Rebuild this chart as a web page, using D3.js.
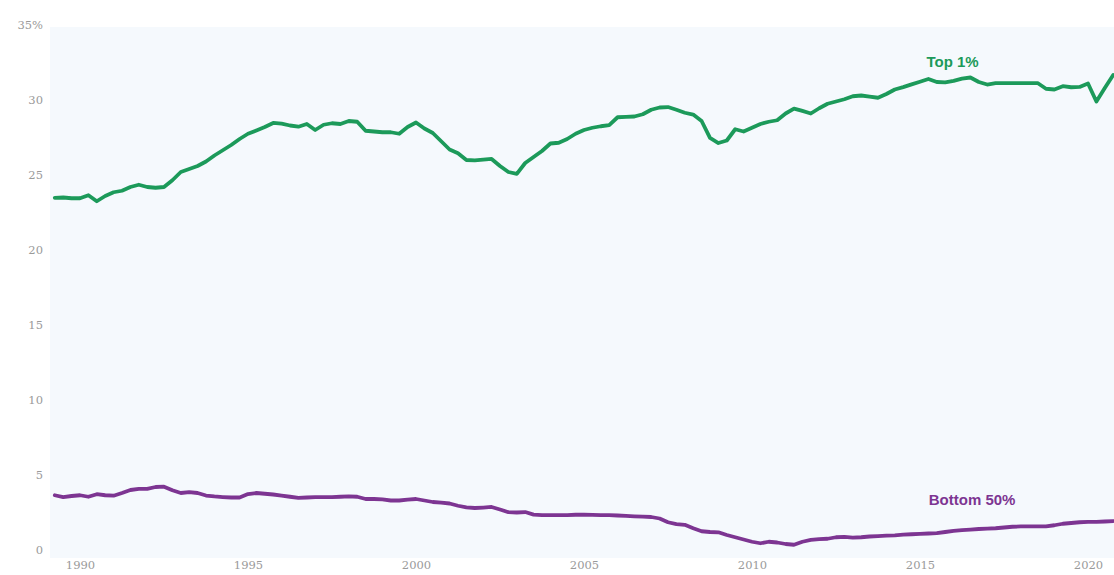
<!DOCTYPE html>
<html>
<head>
<meta charset="utf-8">
<script src="https://cdn.jsdelivr.net/npm/d3@7"></script>
<style>
  html, body { margin: 0; padding: 0; background: #ffffff; }
  svg { display: block; }
</style>
</head>
<body>
<svg id="chart" width="1114" height="575"></svg>
<script>
// Quarterly series, first quarter = 1989 Q2
const startYear = 1989.25;
const top1 = [
  23.47, 23.5, 23.45, 23.45, 23.65, 23.25, 23.6, 23.85, 23.95, 24.2,
  24.35, 24.2, 24.15, 24.2, 24.65, 25.2, 25.4, 25.6, 25.9, 26.3,
  26.65, 27.0, 27.4, 27.75, 27.97, 28.2, 28.47, 28.42, 28.3, 28.22,
  28.4, 28.0, 28.35, 28.45, 28.4, 28.6, 28.55, 27.95, 27.9, 27.85,
  27.85, 27.75, 28.2, 28.5, 28.1, 27.8, 27.25, 26.7, 26.45, 26.0,
  25.97, 26.02, 26.07, 25.6, 25.2, 25.07, 25.8, 26.2, 26.6, 27.1,
  27.15, 27.4, 27.75, 28.0, 28.15, 28.25, 28.32, 28.85, 28.87, 28.9,
  29.05, 29.35, 29.5, 29.53, 29.35, 29.15, 29.03, 28.6, 27.47, 27.13,
  27.3, 28.05, 27.9, 28.15, 28.4, 28.55, 28.65, 29.1, 29.43, 29.27,
  29.1, 29.45, 29.75, 29.9, 30.05, 30.25, 30.3, 30.22, 30.15, 30.4,
  30.7, 30.86, 31.04, 31.22, 31.4, 31.2, 31.18, 31.28, 31.43, 31.5,
  31.2, 31.03, 31.12, 31.13, 31.13, 31.13, 31.13, 31.13, 30.75, 30.7,
  30.92, 30.85, 30.87, 31.1, 29.9, 30.8, 31.67
];
const bottom50 = [
  3.65, 3.53, 3.6, 3.65, 3.55, 3.72, 3.65, 3.62, 3.8, 4.0,
  4.07, 4.07, 4.2, 4.22, 3.98, 3.8, 3.86, 3.8, 3.63, 3.57,
  3.53, 3.5, 3.5, 3.73, 3.8, 3.75, 3.7, 3.63, 3.55, 3.47,
  3.5, 3.53, 3.53, 3.53, 3.55, 3.58, 3.55, 3.4, 3.4, 3.37,
  3.3, 3.3, 3.36, 3.4, 3.3, 3.2, 3.16, 3.1, 2.95, 2.84,
  2.8, 2.83, 2.87, 2.7, 2.52, 2.5, 2.53, 2.36, 2.33, 2.33,
  2.33, 2.33, 2.35, 2.35, 2.34, 2.33, 2.32, 2.3, 2.27, 2.24,
  2.22, 2.2, 2.1, 1.85, 1.72, 1.68, 1.45, 1.25, 1.2, 1.18,
  1.0, 0.85, 0.7, 0.55, 0.45, 0.55, 0.5, 0.4, 0.35, 0.55,
  0.67, 0.72, 0.75, 0.85, 0.87, 0.82, 0.85, 0.9, 0.93, 0.96,
  0.98, 1.02, 1.05, 1.07, 1.1, 1.13, 1.2, 1.28, 1.33, 1.36,
  1.4, 1.42, 1.45, 1.5, 1.55, 1.57, 1.58, 1.58, 1.58, 1.65,
  1.75, 1.8, 1.85, 1.87, 1.87, 1.9, 1.93
];
const xTickYears = [1990, 1995, 2000, 2005, 2010, 2015, 2020];
const yTickValues = [0, 5, 10, 15, 20, 25, 30, 35];
const seriesNames = ["Top 1%", "Bottom 50%"];
const seriesColors = ["#1c9a5a", "#7d3592"];

const svg = d3.select("#chart");
const W = 1114, H = 575;

const x = d3.scaleLinear().domain([1990, 2020]).range([80, 1088]);
const y = d3.scaleLinear().domain([0, 35]).range([550, 25]);

// plot background
svg.append("rect")
  .attr("x", 50).attr("y", 27)
  .attr("width", W - 50).attr("height", 531)
  .attr("fill", "#f5f9fd");

const toPts = arr => arr.map((v, i) => ({ t: startYear + i * 0.25, v }));

const line = d3.line().x(d => x(d.t)).y(d => y(d.v)).curve(d3.curveLinear);

svg.append("clipPath").attr("id", "clip")
  .append("rect").attr("x", 50).attr("y", 0).attr("width", W - 50).attr("height", H);

const g = svg.append("g").attr("clip-path", "url(#clip)");

[top1, bottom50].forEach((arr, i) => {
  g.append("path")
    .datum(toPts(arr))
    .attr("d", line)
    .attr("fill", "none")
    .attr("stroke", seriesColors[i])
    .attr("stroke-width", 3.8)
    .attr("stroke-linejoin", "round")
    .attr("stroke-linecap", "round");
});

// y axis
const yAxis = d3.axisLeft(y).tickValues(yTickValues)
  .tickSize(0).tickPadding(0)
  .tickFormat(d => d === 35 ? "35%" : String(d));
const ya = svg.append("g").attr("transform", "translate(43,0)").call(yAxis);
ya.select(".domain").remove();
ya.selectAll("text")
  .attr("fill", "#9a9a9a")
  .style("font-family", "'DejaVu Serif', serif")
  .style("font-size", "11.5px");

// x axis
const xAxis = d3.axisBottom(x).tickValues(xTickYears)
  .tickSize(0).tickPadding(0).tickFormat(d3.format("d"));
const xa = svg.append("g").attr("transform", "translate(0,561)").call(xAxis);
xa.select(".domain").remove();
xa.selectAll("text")
  .attr("fill", "#9a9a9a")
  .style("font-family", "'DejaVu Serif', serif")
  .style("font-size", "11.5px");

// series labels
const labels = [
  { name: seriesNames[0], t: 2015.97, v: 32.2, color: seriesColors[0] },
  { name: seriesNames[1], t: 2016.55, v: 3.0, color: seriesColors[1] }
];
svg.selectAll(".slabel").data(labels).enter().append("text")
  .attr("class", "slabel")
  .attr("x", d => x(d.t)).attr("y", d => y(d.v))
  .attr("text-anchor", "middle")
  .attr("fill", d => d.color)
  .style("font-family", "'Liberation Sans', Arial, sans-serif")
  .style("font-weight", "bold")
  .style("font-size", "15px")
  .text(d => d.name);
</script>
</body>
</html>
